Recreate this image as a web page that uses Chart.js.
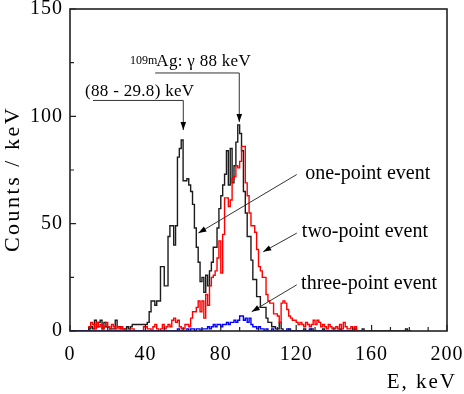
<!DOCTYPE html>
<html><head><meta charset="utf-8">
<script src="https://cdn.jsdelivr.net/npm/chart.js@4/dist/chart.umd.min.js"></script>
<style>html,body{margin:0;padding:0;background:#fff}</style>
</head><body>
<canvas id="c" width="464" height="394" style="display:block;width:464px;height:394px"></canvas>
<script>
// ---- data (1 keV bins, value = counts/keV, index = bin start energy in keV) ----
const onePoint = [
 0,0,0,0,0,0,0,0,0,0,
 1,2,1,5,2,4,5,1,4,2,
 2,1,1,1,5,2,2,1,1,1,
 2,1,2,3,3,3,3,3,3,3,
 3,4,9,14,14,12,14,14,30,30,
 21,21,44,49,49,40,49,81,85,89,
 70,70,71,68,65,59,48,39,32,23,
 25,18,26,21,28,32,39,39,48,57,
 63,68,73,84,68,85,69,77,88,96,
 92,84,65,55,44,44,33,24,24,16,
 16,11,11,11,6,4,4,2,2,1,
 1,4,1,0,0,0,1,0,0,0,
 0,0,0,0,1,0,0,0,1,0,
 0,0,0,0,1,0,0,0,0,0,
 0,0,0,1,0,0,0,0,0,0,
 0,1,0,0,0,1,0,0,0,0,
 0,0,0,0,0,0,0,0,0,0,
 0,0,0,0,0,0,0,0,1,0,
 0
];
const twoPoint = [
 0,0,0,0,0,0,0,0,0,0,
 2,4,3,1,4,2,3,1,2,4,
 2,1,3,2,1,2,1,2,1,0,
 0,0,1,1,0,0,0,0,0,2,
 2,1,1,0,2,3,1,0,1,3,
 1,2,3,2,5,6,4,5,2,1,
 1,3,3,2,6,9,9,11,14,9,
 14,6,17,12,21,25,26,28,34,42,
 27,45,62,62,58,61,71,72,77,76,
 79,86,86,69,63,55,49,49,46,38,
 30,28,25,25,17,14,13,13,8,8,
 7,4,13,14,13,10,7,6,5,5,
 4,3,4,3,2,4,3,2,3,5,
 3,5,4,2,3,2,1,3,2,1,
 1,2,1,3,1,4,2,1,1,2,
 1,2,0
];
const threePoint = [
 0,0,0,0,0,0,0,0,0,0,
 0,0,0,0,0,0,0,0,0,0,
 0,0,0,0,0,0,0,0,0,0,
 0,0,0,0,0,0,0,0,0,0,
 0,0,0,0,0,0,0,0,0,0,
 0,0,0,0,0,0,0,1,0,0,
 0,0,1,0,1,1,0,1,1,0,
 1,1,1,2,1,2,3,2,3,3,
 2,3,3,4,3,4,4,5,4,5,
 7,7,5,6,4,6,3,2,2,1,
 2,1,1,0,1,0,0,1,0,0,
 0,0,0,0,0,1,0,0,0,0,
 0,0,0,0,0,0,0,1,0,0,
 0,0,0,0,0,0,0,0,0,0,
 0,0,0,0,0,0,0,0,0,0,
 0
];
const binWidth = 1;          // keV
const xTickLabels = [0, 40, 80, 120, 160, 200];
const xMinorTicks = [10,20,30,50,60,70,90,100,110,130,140,150,170,180,190];
const yTickLabels = [0, 50, 100, 150];
const yMinorTicks = [25, 75, 125];

// ---- annotation layout (data coordinates) ----
const peakNotes = [
  {sup: '', text: '(88 - 29.8) keV', tx: 8, ty: 109.3, path: [[12.2,107.4],[60.1,107.4],[60.1,93.6]]},
  {sup: '109m', text: 'Ag: \u03B3 88 keV', sx: 31.8, sy: 124.6, tx: 45.8, ty: 123.5, path: [[45.2,120.2],[89.8,120.2],[89.8,97.4]]}
];
const eventNotes = [
  {text: 'one-point event',   tx: 124.8, ty: 70.9, from: [120.3, 72.9], to: [68.1, 45.6]},
  {text: 'two-point event',   tx: 123.0, ty: 43.8, from: [120.3, 45.6], to: [102.5, 36.9]},
  {text: 'three-point event', tx: 122.6, ty: 19.6, from: [120.3, 21.5], to: [96.4, 9.0]}
];

function toSteps(vals) {
  const pts = vals.map((v, i) => ({x: i * binWidth, y: v}));
  pts.push({x: vals.length * binWidth, y: vals[vals.length - 1]});
  return pts;
}

const SERIF = '"Liberation Serif", "Times New Roman", serif';

function arrowHead(ctx, x1, y1, x2, y2) {
  const ang = Math.atan2(y2 - y1, x2 - x1), L = 8, W = 2.8;
  ctx.beginPath();
  ctx.moveTo(x2, y2);
  ctx.lineTo(x2 - L*Math.cos(ang) + W*Math.sin(ang), y2 - L*Math.sin(ang) - W*Math.cos(ang));
  ctx.lineTo(x2 - L*Math.cos(ang) - W*Math.sin(ang), y2 - L*Math.sin(ang) + W*Math.cos(ang));
  ctx.closePath();
  ctx.fill();
}

const decor = {
  id: 'decor',
  beforeDraw(chart) {
    chart.ctx.letterSpacing = '1px';
  },
  afterDraw(chart) {
    const {ctx, chartArea: a, scales: {x, y}} = chart;
    ctx.save();
    ctx.letterSpacing = '0px';
    ctx.strokeStyle = '#222';
    ctx.lineWidth = 1.2;
    ctx.beginPath();
    xTickLabels.forEach(v => { const p = x.getPixelForValue(v); ctx.moveTo(p, a.bottom); ctx.lineTo(p, a.bottom - 6); });
    xMinorTicks.forEach(v => { const p = x.getPixelForValue(v); ctx.moveTo(p, a.bottom); ctx.lineTo(p, a.bottom - 4); });
    yTickLabels.forEach(v => { const p = y.getPixelForValue(v); ctx.moveTo(a.left, p); ctx.lineTo(a.left + 6, p); });
    yMinorTicks.forEach(v => { const p = y.getPixelForValue(v); ctx.moveTo(a.left, p); ctx.lineTo(a.left + 4, p); });
    ctx.stroke();
    ctx.lineWidth = 1.6;
    ctx.strokeRect(a.left, a.top, a.right - a.left, a.bottom - a.top);

    // axis titles
    ctx.fillStyle = '#000';
    ctx.letterSpacing = '2px';
    ctx.font = '21px ' + SERIF;
    ctx.textAlign = 'right'; ctx.textBaseline = 'alphabetic';
    ctx.fillText('E, keV', 457, 388);
    ctx.save();
    ctx.font = '22px ' + SERIF;
    ctx.letterSpacing = '2.5px';
    ctx.translate(19, 179);
    ctx.rotate(-Math.PI / 2);
    ctx.textAlign = 'center';
    ctx.fillText('Counts / keV', 0, 0);
    ctx.restore();
    ctx.letterSpacing = '0px';

    // peak notes
    ctx.strokeStyle = '#333'; ctx.fillStyle = '#000'; ctx.lineWidth = 1;
    peakNotes.forEach(n => {
      ctx.textAlign = 'left';
      if (n.sup) { ctx.font = '12px ' + SERIF; ctx.fillText(n.sup, x.getPixelForValue(n.sx), y.getPixelForValue(n.sy)); }
      ctx.font = '17px ' + SERIF;
      ctx.letterSpacing = '0.3px';
      ctx.fillText(n.text, x.getPixelForValue(n.tx), y.getPixelForValue(n.ty));
      ctx.letterSpacing = '0px';
      const pts = n.path.map(([e, v]) => [x.getPixelForValue(e), y.getPixelForValue(v)]);
      ctx.beginPath();
      pts.forEach(([px, py], i) => i ? ctx.lineTo(px, py) : ctx.moveTo(px, py));
      ctx.stroke();
      const [p1, p2] = pts.slice(-2);
      arrowHead(ctx, p1[0], p1[1], p2[0], p2[1]);
    });
    // event notes
    eventNotes.forEach(n => {
      ctx.font = '20px ' + SERIF;
      ctx.fillText(n.text, x.getPixelForValue(n.tx), y.getPixelForValue(n.ty));
      const x1 = x.getPixelForValue(n.from[0]), y1 = y.getPixelForValue(n.from[1]);
      const x2 = x.getPixelForValue(n.to[0]), y2 = y.getPixelForValue(n.to[1]);
      ctx.beginPath(); ctx.moveTo(x1, y1); ctx.lineTo(x2, y2); ctx.stroke();
      arrowHead(ctx, x1, y1, x2, y2);
    });
    ctx.restore();
  }
};

const ds = (label, vals, color, order) => ({
  label, data: toSteps(vals), borderColor: color, borderWidth: 1.4,
  stepped: 'before', pointRadius: 0, fill: false, order
});

new Chart(document.getElementById('c'), {
  type: 'line',
  data: { datasets: [
    ds('one-point event', onePoint, '#1c1c1c', 2),
    ds('two-point event', twoPoint, '#ff0000', 1),
    ds('three-point event', threePoint, '#0000ff', 0)
  ]},
  options: {
    responsive: false, animation: false, events: [],
    layout: { padding: { top: 9, right: 17, left: 0, bottom: 0 } },
    plugins: { legend: { display: false }, tooltip: { enabled: false } },
    scales: {
      x: {
        type: 'linear', min: 0, max: 200,
        grid: { display: false, drawTicks: false }, border: { display: false },
        ticks: { stepSize: 40, padding: 12, color: '#000', font: { family: SERIF, size: 20 }, maxRotation: 0 },
        afterFit: s => { s.height = 63; s.paddingLeft = 0; s.paddingRight = 0; }
      },
      y: {
        min: 0, max: 150,
        grid: { display: false, drawTicks: false }, border: { display: false },
        ticks: { stepSize: 50, padding: 7, color: '#000', font: { family: SERIF, size: 20 } },
        afterFit: s => { s.width = 70; s.paddingTop = 0; s.paddingBottom = 0; }
      }
    }
  },
  plugins: [decor]
});
</script>
</body></html>
